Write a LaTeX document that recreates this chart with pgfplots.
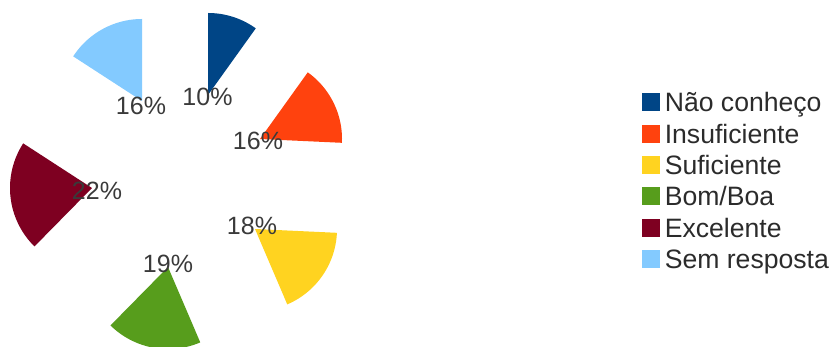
\documentclass[border=0pt]{standalone}
\usepackage{pgfplots}
\usepackage{pgfplotstable}
\pgfplotsset{compat=1.18}
\usepackage{fontspec}
\setmainfont{Liberation Sans}
\definecolor{slice0}{HTML}{004586}
\definecolor{slice1}{HTML}{FF420E}
\definecolor{slice2}{HTML}{FFD320}
\definecolor{slice3}{HTML}{579D1C}
\definecolor{slice4}{HTML}{7E0021}
\definecolor{slice5}{HTML}{83CAFF}
\definecolor{labelgray}{HTML}{3A3A3A}
\definecolor{legendgray}{HTML}{2B2B2B}

% pct = share (%), vx/vy = tip of the exploded slice, lx/ly = label (pixel coords, y down)
\pgfplotstableread{
pct vx  vy  lx    ly
10  208 95  207.5 97
16  260 139 258   141
18  255 229 252   226
19  168 267 168   264
22  92  188 97    191
16  142 101 141   106
}\piedata

\begin{document}
\pgfmathsetmacro{\total}{0}%
\pgfplotsforeachungrouped \i in {0,...,5}{%
  \pgfplotstablegetelem{\i}{pct}\of\piedata
  \pgfmathsetmacro{\total}{\total+\pgfplotsretval}%
}%
\def\cum{0}%
\pgfplotsforeachungrouped \i in {0,...,5}{%
  \pgfplotstablegetelem{\i}{pct}\of\piedata
  \let\p\pgfplotsretval
  \pgfmathsetmacro{\a}{360*(\cum/\total)}%
  \pgfmathsetmacro{\cum}{\cum+\p}%
  \pgfmathsetmacro{\b}{360*(\cum/\total)}%
  \expandafter\xdef\csname sa\i\endcsname{\a}%
  \expandafter\xdef\csname sb\i\endcsname{\b}%
  \pgfplotstablegetelem{\i}{vx}\of\piedata
  \expandafter\xdef\csname vx\i\endcsname{\pgfplotsretval}%
  \pgfplotstablegetelem{\i}{vy}\of\piedata
  \expandafter\xdef\csname vy\i\endcsname{\pgfplotsretval}%
}%
\begin{tikzpicture}
\begin{axis}[
  scale only axis, width=417.5pt, height=173.5pt,
  xmin=0, xmax=835, ymin=0, ymax=347, y dir=reverse,
  hide axis, clip=false,
  legend cell align=left,
  legend image code/.code={\fill[#1] (0pt,-4.5pt) rectangle (9pt,4.5pt);},
  legend style={at={(0.76886,0.73199)}, anchor=north west, draw=none, fill=none,
    inner sep=0pt, outer sep=0pt, row sep=6.15pt, column sep=2.4pt,
    font=\fontsize{13.3}{15}\selectfont, text=legendgray,
    nodes={inner sep=0pt, text height=9.5pt, text depth=0pt}},
]
\pgfplotsforeachungrouped \i in {0,...,5}{%
  \edef\temp{\noexpand\addplot[fill=slice\i, draw=none,
     domain=\csname sa\i\endcsname:\csname sb\i\endcsname, samples=60, variable=\noexpand\t]
   ({\csname vx\i\endcsname+82*sin(\noexpand\t)}, {\csname vy\i\endcsname-82*cos(\noexpand\t)})
   -- (axis cs:\csname vx\i\endcsname,\csname vy\i\endcsname) -- cycle;}%
  \temp
}
\addplot[forget plot, draw=none, mark=none, point meta=explicit symbolic,
  nodes near coords={\pgfplotspointmeta\%},
  nodes near coords style={anchor=center, inner sep=0pt, text=labelgray,
    font=\fontsize{12.5}{15}\selectfont}]
  table[x=lx, y=ly, meta=pct] {\piedata};
\legend{Não conheço, Insuficiente, Suficiente, Bom/Boa, Excelente, Sem resposta}
\end{axis}
\pgfresetboundingbox
\path (current axis.south west) rectangle (current axis.north east);
\end{tikzpicture}
\end{document}
